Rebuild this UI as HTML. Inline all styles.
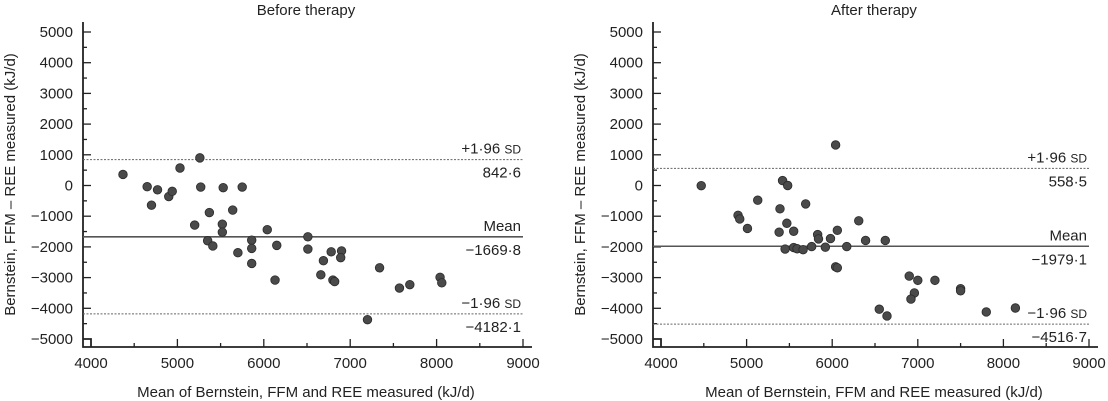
<!DOCTYPE html>
<html><head><meta charset="utf-8"><style>
html,body{margin:0;padding:0;background:#fff}
svg{display:block;font-family:"Liberation Sans",Arial,sans-serif}
</style></head><body>
<svg id="c" width="1108" height="401" viewBox="0 0 1108 401"></svg>
<script>
const xTicks=[4000,5000,6000,7000,8000,9000];
const yTicks=[5000,4000,3000,2000,1000,0,-1000,-2000,-3000,-4000,-5000];
const beforeX=[4370,4650,4700,4770,4900,4940,5030,5260,5270,5200,5370,5350,5410,5520,5520,5530,5640,5750,5700,5860,5860,5860,6040,6130,6150,6510,6510,6660,6690,6780,6800,6820,6900,6890,7200,7340,7570,7690,8040,8060];
const beforeY=[360,-40,-640,-140,-360,-190,570,900,-50,-1290,-880,-1800,-1970,-1260,-1520,-70,-800,-50,-2190,-1780,-2050,-2540,-1440,-3080,-1950,-1670,-2070,-2910,-2450,-2160,-3080,-3130,-2130,-2350,-4370,-2680,-3340,-3230,-2990,-3170];
const afterX=[4470,5130,4900,4920,5010,5420,5480,5390,5470,5380,5550,5690,5450,5550,5590,5660,5760,5830,5840,5920,5980,6040,6060,6040,6060,6170,6310,6390,6620,6900,7000,7200,6960,6920,6550,6640,7500,7500,7800,8140];
const afterY=[-5,-480,-970,-1090,-1400,160,0,-760,-1230,-1520,-1490,-600,-2070,-2020,-2060,-2090,-1990,-1600,-1740,-2010,-1730,1320,-1460,-2650,-2680,-1990,-1150,-1790,-1790,-2950,-3090,-3090,-3500,-3700,-4030,-4250,-3360,-3430,-4120,-3990];
const beforeStats=[842.6,-1669.8,-4182.1];
const afterStats=[558.5,-1979.1,-4516.7];
const statLabels=["+1·96 SD","Mean","−1·96 SD"];
const NS="http://www.w3.org/2000/svg";
const svg=document.getElementById('c');
function mk(tag,attrs,parent,text){const e=document.createElementNS(NS,tag);for(const k in attrs)e.setAttribute(k,attrs[k]);if(text!==undefined)e.textContent=text;(parent||svg).appendChild(e);return e;}
function fmt(v){return (v<0?'−':'')+Math.abs(v).toFixed(1).replace('.','·');}
function panel(id,title,ax,x0,x1,xs,ys,stats){
  const g=mk('g',{});
  
  
  const yTop=32,yBot=339,axisY=347;
  const sx=v=>x0+(v-4000)/5000*(x1-x0);
  const sy=v=>yTop+(5000-v)/10000*(yBot-yTop);
  const t=mk('text',{x:(ax+x1)/2+3,y:15,'text-anchor':'middle','font-size':15,fill:'#222'},g,title);
  
  
  const axes=mk('path',{d:`M${ax},22V${axisY}H${x1+9}M${x0},${axisY}V${yBot}H${ax}`,stroke:'#222','stroke-width':1.8,fill:'none'},g);
  
  
  for(let v=-4500;v<=5000;v+=500){
    const major=v%1000===0;
    mk('line',{x1:ax,x2:ax+(major?8:4),y1:sy(v),y2:sy(v),stroke:'#222','stroke-width':1.3},g);
  }
  yTicks.forEach(v=>{
    const l=mk('text',{x:ax-10,y:sy(v)+5,'text-anchor':'end','font-size':15,fill:'#222'},g,(v<0?'−':'')+Math.abs(v));
    
    
  });
  for(let v=4500;v<=9000;v+=500){
    const major=v%1000===0;
    mk('line',{x1:sx(v),x2:sx(v),y1:axisY,y2:axisY-(major?8:4),stroke:'#222','stroke-width':1.3},g);
  }
  xTicks.forEach(v=>{
    const l=mk('text',{x:sx(v),y:axisY+21,'text-anchor':'middle','font-size':15,fill:'#222'},g,String(v));
    
    
  });
  const xl=mk('text',{x:(ax+x1)/2+3,y:397,'text-anchor':'middle','font-size':15,fill:'#222'},g,'Mean of Bernstein, FFM and REE measured (kJ/d)');
  
  
  const yl=mk('text',{x:0,y:0,transform:`translate(${ax-68},${(22+axisY)/2}) rotate(-90)`,'text-anchor':'middle','font-size':15,fill:'#222'},g,'Bernstein, FFM – REE measured (kJ/d)');
  
  
  stats.forEach((v,i)=>{
    const y=sy(v);
    const ln=mk('line',{x1:ax,x2:x1,y1:y,y2:y,stroke:i===1?'#555':'#666','stroke-width':i===1?1.6:1,'stroke-dasharray':i===1?'none':'2,1.5'},g);
    
    
    const lab=statLabels[i];
    const tl=mk('text',{x:x1-2,y:y-6,'text-anchor':'end','font-size':15,fill:'#222'},g);
    if(lab.endsWith('SD')){mk('tspan',{},tl,lab.slice(0,-3)+' ');mk('tspan',{'font-size':12},tl,'SD');}
    else tl.textContent=lab;
    
    
    const tv=mk('text',{x:x1-2,y:y+18,'text-anchor':'end','font-size':15,fill:'#222'},g,fmt(v));
    
    
  });
  xs.forEach((xv,i)=>{
    const c=mk('circle',{cx:sx(xv),cy:sy(ys[i]),r:4.3,fill:'#4a4a4a',stroke:'#2a2a2a','stroke-width':0.8},g);
    
    
  });
}
panel('before','Before therapy',83,91,523,beforeX,beforeY,beforeStats);
panel('after','After therapy',653,661,1089,afterX,afterY,afterStats);
</script>
</body></html>
